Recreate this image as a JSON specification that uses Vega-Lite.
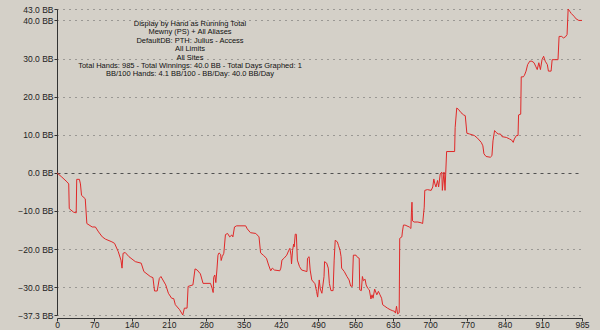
{
  "$schema": "https://vega.github.io/schema/vega-lite/v6.json",
  "width": 525,
  "height": 306,
  "autosize": {"type": "none"},
  "padding": {"left": 57, "top": 9, "right": 18, "bottom": 15},
  "background": "#D4D0C8",
  "config": {"view": {"stroke": null}, "font": "Liberation Sans"},
  "title": {
    "text": [
      "Display by Hand as Running Total",
      "Mewny (PS) + All Aliases",
      "DefaultDB: PTH: Julius - Access",
      "All Limits",
      "All Sites",
      "Total Hands: 985 - Total Winnings: 40.0 BB - Total Days Graphed: 1",
      "BB/100 Hands: 4.1 BB/100 - BB/Day: 40.0 BB/Day"
    ],
    "anchor": "middle",
    "frame": "group",
    "align": "center",
    "baseline": "top",
    "dx": -129.5,
    "offset": -73,
    "fontSize": 7.5,
    "fontWeight": "normal",
    "color": "#111111",
    "lineHeight": 8.45,
    "font": "Liberation Sans"
  },
  "data": {
    "values": [
      {"hand": 0, "bb": 0}, {"hand": 9, "bb": -1.1}, {"hand": 19, "bb": -2.4}, {"hand": 22, "bb": -2.9},
      {"hand": 23, "bb": -9.4}, {"hand": 31, "bb": -10.3}, {"hand": 36, "bb": -10.5}, {"hand": 37, "bb": -1.7},
      {"hand": 42, "bb": -1.7}, {"hand": 44, "bb": -2.9}, {"hand": 46, "bb": -5.9}, {"hand": 53, "bb": -6.8},
      {"hand": 56, "bb": -13.3}, {"hand": 66, "bb": -14.2}, {"hand": 72, "bb": -14.2}, {"hand": 78, "bb": -15.5},
      {"hand": 85, "bb": -16.8}, {"hand": 91, "bb": -17.4}, {"hand": 103, "bb": -18.1}, {"hand": 108, "bb": -18.5},
      {"hand": 115, "bb": -20.7}, {"hand": 120, "bb": -22.9}, {"hand": 122, "bb": -25.0}, {"hand": 124, "bb": -21.1},
      {"hand": 128, "bb": -20.9}, {"hand": 135, "bb": -22.0}, {"hand": 147, "bb": -23.3}, {"hand": 158, "bb": -23.7},
      {"hand": 163, "bb": -25.9}, {"hand": 175, "bb": -27.2}, {"hand": 180, "bb": -27.5}, {"hand": 183, "bb": -31.0},
      {"hand": 188, "bb": -31.0}, {"hand": 192, "bb": -27.7}, {"hand": 195, "bb": -27.2}, {"hand": 204, "bb": -29.4},
      {"hand": 209, "bb": -31.6}, {"hand": 215, "bb": -32.9}, {"hand": 219, "bb": -33.0}, {"hand": 222, "bb": -34.6},
      {"hand": 230, "bb": -35.9}, {"hand": 236, "bb": -37.3}, {"hand": 239, "bb": -35.5}, {"hand": 244, "bb": -35.5},
      {"hand": 246, "bb": -29.8}, {"hand": 255, "bb": -29.4}, {"hand": 259, "bb": -25.2}, {"hand": 263, "bb": -25.5},
      {"hand": 269, "bb": -26.5}, {"hand": 274, "bb": -29.0}, {"hand": 288, "bb": -29.0}, {"hand": 291, "bb": -30.3},
      {"hand": 293, "bb": -31.4}, {"hand": 294, "bb": -27.4}, {"hand": 296, "bb": -26.8}, {"hand": 298, "bb": -28.8},
      {"hand": 300, "bb": -25.5}, {"hand": 302, "bb": -21.6}, {"hand": 304, "bb": -21.0}, {"hand": 307, "bb": -21.4},
      {"hand": 308, "bb": -23.0}, {"hand": 310, "bb": -22.0}, {"hand": 313, "bb": -21.1}, {"hand": 316, "bb": -16.2},
      {"hand": 320, "bb": -15.9}, {"hand": 324, "bb": -16.8}, {"hand": 328, "bb": -16.3}, {"hand": 330, "bb": -16.8},
      {"hand": 333, "bb": -14.2}, {"hand": 337, "bb": -13.9}, {"hand": 354, "bb": -13.9}, {"hand": 357, "bb": -14.7},
      {"hand": 363, "bb": -15.7}, {"hand": 373, "bb": -15.9}, {"hand": 379, "bb": -16.8}, {"hand": 382, "bb": -21.0},
      {"hand": 387, "bb": -21.6}, {"hand": 393, "bb": -22.4}, {"hand": 397, "bb": -24.2}, {"hand": 401, "bb": -25.7},
      {"hand": 404, "bb": -25.0}, {"hand": 408, "bb": -25.5}, {"hand": 418, "bb": -25.7}, {"hand": 420, "bb": -25.0},
      {"hand": 422, "bb": -22.9}, {"hand": 426, "bb": -22.4}, {"hand": 431, "bb": -21.6}, {"hand": 435, "bb": -20.3},
      {"hand": 437, "bb": -19.8}, {"hand": 439, "bb": -21.6}, {"hand": 440, "bb": -23.9}, {"hand": 442, "bb": -20.3},
      {"hand": 444, "bb": -18.7}, {"hand": 445, "bb": -19.4}, {"hand": 447, "bb": -16.1}, {"hand": 449, "bb": -16.1},
      {"hand": 451, "bb": -22.9}, {"hand": 455, "bb": -24.6}, {"hand": 459, "bb": -25.5}, {"hand": 469, "bb": -25.9},
      {"hand": 470, "bb": -22.4}, {"hand": 473, "bb": -22.0}, {"hand": 475, "bb": -25.5}, {"hand": 478, "bb": -28.1},
      {"hand": 484, "bb": -29.1}, {"hand": 487, "bb": -31.1}, {"hand": 489, "bb": -32.6}, {"hand": 492, "bb": -28.1},
      {"hand": 494, "bb": -30.5}, {"hand": 497, "bb": -31.6}, {"hand": 501, "bb": -27.2}, {"hand": 502, "bb": -23.3},
      {"hand": 506, "bb": -23.7}, {"hand": 509, "bb": -25.0}, {"hand": 511, "bb": -29.0}, {"hand": 514, "bb": -30.9},
      {"hand": 518, "bb": -30.9}, {"hand": 520, "bb": -22.9}, {"hand": 522, "bb": -17.7}, {"hand": 526, "bb": -18.1},
      {"hand": 528, "bb": -19.0}, {"hand": 531, "bb": -20.3}, {"hand": 533, "bb": -22.0}, {"hand": 534, "bb": -25.0},
      {"hand": 539, "bb": -25.9}, {"hand": 544, "bb": -27.2}, {"hand": 548, "bb": -28.1}, {"hand": 551, "bb": -29.7},
      {"hand": 554, "bb": -29.8}, {"hand": 556, "bb": -21.6}, {"hand": 561, "bb": -21.6}, {"hand": 564, "bb": -22.2},
      {"hand": 567, "bb": -22.4}, {"hand": 568, "bb": -30.7}, {"hand": 571, "bb": -30.9}, {"hand": 573, "bb": -27.2},
      {"hand": 575, "bb": -28.3}, {"hand": 578, "bb": -27.9}, {"hand": 580, "bb": -29.4}, {"hand": 583, "bb": -30.3},
      {"hand": 586, "bb": -30.7}, {"hand": 589, "bb": -33.1}, {"hand": 591, "bb": -32.0}, {"hand": 593, "bb": -32.9},
      {"hand": 596, "bb": -30.5}, {"hand": 600, "bb": -32.0}, {"hand": 603, "bb": -31.1}, {"hand": 606, "bb": -32.0},
      {"hand": 609, "bb": -32.9}, {"hand": 611, "bb": -34.6}, {"hand": 615, "bb": -35.0}, {"hand": 620, "bb": -35.5},
      {"hand": 625, "bb": -35.9}, {"hand": 630, "bb": -36.2}, {"hand": 633, "bb": -36.3}, {"hand": 635, "bb": -36.8},
      {"hand": 636, "bb": -35.9}, {"hand": 637, "bb": -35.0}, {"hand": 639, "bb": -37.0}, {"hand": 642, "bb": -36.7},
      {"hand": 643, "bb": -17.2}, {"hand": 647, "bb": -16.8}, {"hand": 648, "bb": -15.5}, {"hand": 650, "bb": -13.7},
      {"hand": 653, "bb": -13.7}, {"hand": 661, "bb": -14.2}, {"hand": 664, "bb": -14.6}, {"hand": 665, "bb": -10.3},
      {"hand": 666, "bb": -7.7}, {"hand": 667, "bb": -12.6}, {"hand": 670, "bb": -12.9}, {"hand": 677, "bb": -12.9},
      {"hand": 683, "bb": -13.1}, {"hand": 686, "bb": -13.3}, {"hand": 689, "bb": -9.0}, {"hand": 690, "bb": -4.6},
      {"hand": 695, "bb": -4.4}, {"hand": 702, "bb": -4.6}, {"hand": 705, "bb": -3.7}, {"hand": 707, "bb": -1.6},
      {"hand": 709, "bb": -2.9}, {"hand": 711, "bb": -3.7}, {"hand": 714, "bb": -2.0}, {"hand": 716, "bb": -3.7},
      {"hand": 719, "bb": -0.3}, {"hand": 722, "bb": 0.2}, {"hand": 723, "bb": -4.6}, {"hand": 726, "bb": 0.2},
      {"hand": 728, "bb": -4.6}, {"hand": 731, "bb": 5.6}, {"hand": 746, "bb": 5.6}, {"hand": 747, "bb": 11.9},
      {"hand": 750, "bb": 17.0}, {"hand": 753, "bb": 16.7}, {"hand": 758, "bb": 15.8}, {"hand": 763, "bb": 15.2},
      {"hand": 766, "bb": 15.0}, {"hand": 769, "bb": 10.4}, {"hand": 774, "bb": 10.2}, {"hand": 783, "bb": 9.8},
      {"hand": 789, "bb": 9.1}, {"hand": 796, "bb": 8.0}, {"hand": 799, "bb": 7.1}, {"hand": 801, "bb": 5.0},
      {"hand": 805, "bb": 4.3}, {"hand": 813, "bb": 4.1}, {"hand": 816, "bb": 4.5}, {"hand": 818, "bb": 8.4},
      {"hand": 821, "bb": 11.1}, {"hand": 824, "bb": 10.6}, {"hand": 828, "bb": 10.2}, {"hand": 832, "bb": 10.2},
      {"hand": 835, "bb": 9.5}, {"hand": 843, "bb": 9.3}, {"hand": 849, "bb": 8.9}, {"hand": 853, "bb": 8.6},
      {"hand": 856, "bb": 8.0}, {"hand": 858, "bb": 8.9}, {"hand": 862, "bb": 9.8}, {"hand": 865, "bb": 9.8},
      {"hand": 866, "bb": 15.2}, {"hand": 870, "bb": 15.4}, {"hand": 871, "bb": 25.2}, {"hand": 875, "bb": 25.2},
      {"hand": 877, "bb": 25.6}, {"hand": 880, "bb": 26.7}, {"hand": 883, "bb": 28.4}, {"hand": 887, "bb": 29.3},
      {"hand": 891, "bb": 29.3}, {"hand": 895, "bb": 28.9}, {"hand": 898, "bb": 28.0}, {"hand": 901, "bb": 27.1},
      {"hand": 904, "bb": 28.9}, {"hand": 907, "bb": 27.1}, {"hand": 910, "bb": 29.7}, {"hand": 913, "bb": 30.6},
      {"hand": 916, "bb": 29.3}, {"hand": 920, "bb": 28.4}, {"hand": 922, "bb": 26.7}, {"hand": 927, "bb": 26.7},
      {"hand": 929, "bb": 29.7}, {"hand": 940, "bb": 29.7}, {"hand": 942, "bb": 35.8}, {"hand": 947, "bb": 35.8},
      {"hand": 950, "bb": 35.4}, {"hand": 954, "bb": 35.7}, {"hand": 957, "bb": 36.3}, {"hand": 959, "bb": 43.0},
      {"hand": 962, "bb": 42.4}, {"hand": 965, "bb": 41.8}, {"hand": 970, "bb": 41.1}, {"hand": 974, "bb": 40.4},
      {"hand": 979, "bb": 40.0}, {"hand": 985, "bb": 40.0}
    ]
  },
  "mark": {"type": "line", "color": "#E02828", "strokeWidth": 1, "interpolate": "linear"},
  "encoding": {
    "x": {
      "field": "hand",
      "type": "quantitative",
      "scale": {"domain": [0, 985], "nice": false, "zero": false},
      "axis": {
        "title": null,
        "grid": false,
        "offset": 3,
        "values": [0, 70, 140, 210, 280, 350, 420, 490, 560, 630, 700, 770, 840, 910, 985],
        "format": "d",
        "labelFont": "Liberation Sans",
        "labelFontSize": 8.5,
        "labelColor": "#222222",
        "labelPadding": -1,
        "labelFlush": false,
        "labelOverlap": false,
        "tickSize": 3,
        "tickColor": "#333333",
        "domainColor": "#333333"
      }
    },
    "y": {
      "field": "bb",
      "type": "quantitative",
      "scale": {"domain": [-37.3, 43], "nice": false, "zero": false},
      "axis": {
        "title": null,
        "values": [-37.3, -30, -20, -10, 0, 10, 20, 30, 40, 43],
        "labelExpr": "format(datum.value, '.1f') + ' BB'",
        "labelFont": "Liberation Sans",
        "labelFontSize": 8.5,
        "labelColor": "#222222",
        "labelPadding": 1,
        "labelFlush": false,
        "labelOverlap": false,
        "tickSize": 3,
        "tickColor": "#333333",
        "domainColor": "#333333",
        "grid": true,
        "gridColor": {"condition": {"test": "datum.value === 0", "value": "#505050"}, "value": "#606060"},
        "gridDash": {"condition": {"test": "datum.value === 0", "value": [3, 4]}, "value": [1, 5]},
        "gridWidth": 1
      }
    }
  }
}
